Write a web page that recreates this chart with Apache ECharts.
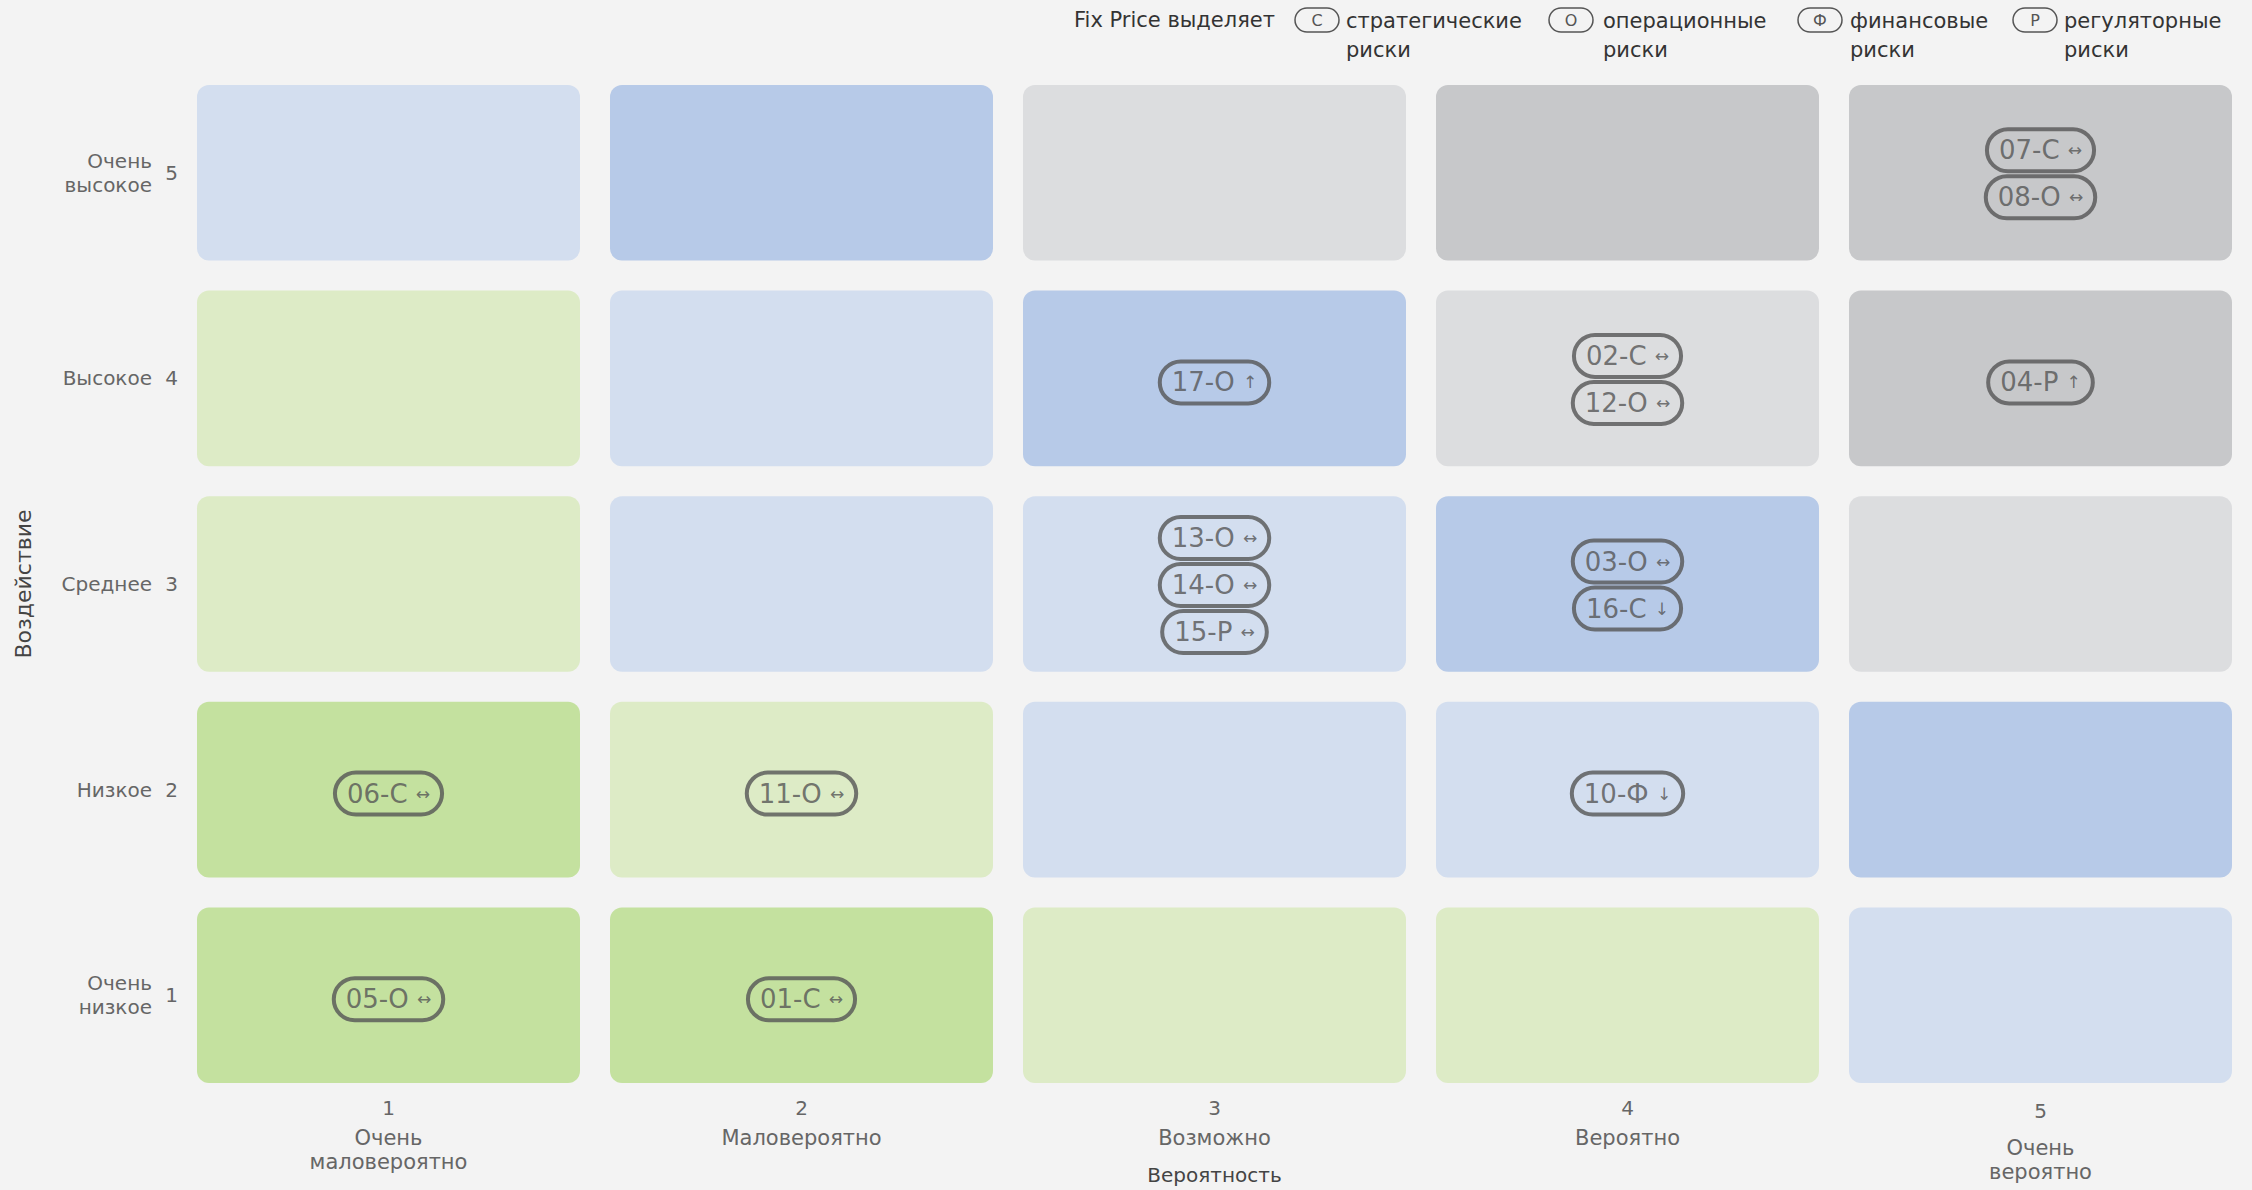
<!DOCTYPE html>
<html>
<head>
<meta charset="utf-8">
<script src="https://cdn.jsdelivr.net/npm/echarts@6/dist/echarts.min.js"></script>
<style>
  html, body { margin: 0; background: #f3f3f3; }
  #chart { width: 2252px; height: 1190px; }
</style>
</head>
<body>
<div id="chart"></div>
<script>
// оси
var likelihoodNums = ['1', '2', '3', '4', '5'];
var likelihoodNames = ['Очень\nмаловероятно', 'Маловероятно', 'Возможно', 'Вероятно', 'Очень\nвероятно'];
var impactNums = ['1', '2', '3', '4', '5'];
var impactNames = ['Очень\nнизкое', 'Низкое', 'Среднее', 'Высокое', 'Очень\nвысокое'];

// уровень ячейки, строки снизу вверх (воздействие 1..5), столбцы - вероятность 1..5
var cellLevels = [
  [0, 0, 1, 1, 2],
  [0, 1, 2, 2, 3],
  [1, 2, 2, 3, 4],
  [1, 2, 3, 4, 5],
  [2, 3, 4, 5, 5]
];
var levelColors = ['#c4e19f', '#ddebc6', '#d3deef', '#b7cae8', '#dcdddf', '#c7c8ca'];

// риски
var riskCodes = ['05-О', '01-С', '06-С', '11-О', '10-Ф', '13-О', '14-О', '15-Р', '03-О', '16-С', '17-О', '02-С', '12-О', '04-Р', '07-С', '08-О'];
var riskLikelihood = [1, 2, 1, 2, 4, 3, 3, 3, 4, 4, 3, 4, 4, 5, 5, 5];
var riskImpact = [1, 1, 2, 2, 2, 3, 3, 3, 3, 3, 4, 4, 4, 4, 5, 5];
var riskTrend = ['↔', '↔', '↔', '↔', '↓', '↔', '↔', '↔', '↔', '↓', '↑', '↔', '↔', '↑', '↔', '↔'];

// легенда
var legendLetters = ['С', 'О', 'Ф', 'Р'];
var legendNames = ['стратегические\nриски', 'операционные\nриски', 'финансовые\nриски', 'регуляторные\nриски'];

var FONT = 'DejaVu Sans';

var chart = echarts.init(document.getElementById('chart'), null, { renderer: 'svg' });

// ячейки матрицы
var cellData = [];
for (var y = 0; y < cellLevels.length; y++) {
  for (var x = 0; x < cellLevels[y].length; x++) {
    cellData.push([x, y, cellLevels[y][x]]);
  }
}

// метки рисков, стопкой внутри ячейки
var riskData = [];
var cellCount = {};
riskCodes.forEach(function (code, i) {
  var key = riskLikelihood[i] + '_' + riskImpact[i];
  cellCount[key] = (cellCount[key] || 0) + 1;
});
var cellIdx = {};
riskCodes.forEach(function (code, i) {
  var key = riskLikelihood[i] + '_' + riskImpact[i];
  var k = cellIdx[key] || 0;
  cellIdx[key] = k + 1;
  var n = cellCount[key];
  riskData.push({
    value: [riskLikelihood[i] - 1, riskImpact[i] - 1],
    label: { offset: [0, (k - (n - 1) / 2) * 47 + (n === 1 ? 4 : 1)] }
  });
});

function renderCell(params, api) {
  var c = api.coord([api.value(0), api.value(1)]);
  var s = api.size([1, 1]);
  var w = s[0] - 30, h = s[1] - 30;
  return {
    type: 'rect',
    shape: { x: c[0] - w / 2, y: c[1] - h / 2, width: w, height: h, r: 12 },
    style: { fill: levelColors[api.value(2)] }
  };
}

// последняя колонка подписана чуть ниже
var xNumData = likelihoodNums.map(function (v, i) {
  return i === likelihoodNums.length - 1 ? { value: v, textStyle: { padding: [3, 0, 0, 0] } } : v;
});
var xNameData = likelihoodNames.map(function (v, i) {
  return i === likelihoodNames.length - 1 ? { value: v, textStyle: { padding: [10, 0, 0, 0] } } : v;
});

// легенда сверху
var legendPillX = [1295, 1549, 1798, 2013];
var legendTextX = [1346, 1603, 1850, 2064];
var graphics = [{
  type: 'text', x: 1074, y: 20,
  style: { text: 'Fix Price выделяет', fontSize: 21, fontFamily: FONT, fill: '#333', verticalAlign: 'middle' }
}];
legendLetters.forEach(function (letter, i) {
  graphics.push({
    type: 'rect',
    shape: { x: legendPillX[i], y: 8, width: 44, height: 24, r: 12 },
    style: { fill: 'none', stroke: '#555', lineWidth: 1.5 }
  });
  graphics.push({
    type: 'text', x: legendPillX[i] + 22, y: 20,
    style: { text: letter, fontSize: 16, fontFamily: FONT, fill: '#555', align: 'center', verticalAlign: 'middle' }
  });
  graphics.push({
    type: 'text', x: legendTextX[i], y: 6,
    style: { text: legendNames[i], fontSize: 21, lineHeight: 29, fontFamily: FONT, fill: '#333', verticalAlign: 'top' }
  });
});

var option = {
  backgroundColor: '#f3f3f3',
  animation: false,
  grid: { left: 182, top: 70, width: 2065, height: 1028, containLabel: false, outerBoundsMode: 'none' },
  graphic: graphics,
  xAxis: [{
    type: 'category',
    data: xNumData,
    position: 'bottom',
    axisLine: { show: false },
    axisTick: { show: false },
    splitLine: { show: false },
    axisLabel: { margin: 0, fontSize: 20, lineHeight: 20, fontFamily: FONT, color: '#666' },
    name: 'Вероятность',
    nameLocation: 'middle',
    nameGap: 66,
    nameTextStyle: { fontSize: 20, lineHeight: 22, fontFamily: FONT, color: '#444' }
  }, {
    type: 'category',
    data: xNameData,
    position: 'bottom',
    offset: 28,
    axisLine: { show: false },
    axisTick: { show: false },
    axisLabel: { margin: 0, fontSize: 21, lineHeight: 24, fontFamily: FONT, color: '#666' }
  }],
  yAxis: [{
    type: 'category',
    data: impactNums,
    axisLine: { show: false },
    axisTick: { show: false },
    splitLine: { show: false },
    axisLabel: { margin: 4, fontSize: 20, fontFamily: FONT, color: '#666' },
    name: 'Воздействие',
    nameLocation: 'middle',
    nameGap: 148,
    nameTextStyle: { fontSize: 22, fontFamily: FONT, color: '#444' }
  }, {
    type: 'category',
    data: impactNames,
    position: 'left',
    axisLine: { show: false },
    axisTick: { show: false },
    axisLabel: { margin: 30, fontSize: 20, lineHeight: 24, fontFamily: FONT, color: '#666' }
  }],
  series: [{
    type: 'custom',
    renderItem: renderCell,
    data: cellData,
    silent: true,
    z: 1
  }, {
    type: 'scatter',
    data: riskData,
    symbolSize: 1,
    itemStyle: { color: 'transparent' },
    silent: true,
    z: 5,
    label: {
      show: true,
      position: 'inside',
      formatter: function (p) {
        return '{t|' + riskCodes[p.dataIndex] + ' }{a|' + riskTrend[p.dataIndex] + '}';
      },
      borderColor: '#555',
      borderWidth: 2,
      borderRadius: 22,
      padding: [5, 12, 5, 12],
      backgroundColor: 'transparent',
      rich: {
        t: { fontSize: 26, lineHeight: 32, fontFamily: FONT, color: '#555' },
        a: { fontSize: 17, lineHeight: 32, fontFamily: FONT, color: '#555' }
      }
    }
  }]
};

chart.setOption(option);
</script>
</body>
</html>
